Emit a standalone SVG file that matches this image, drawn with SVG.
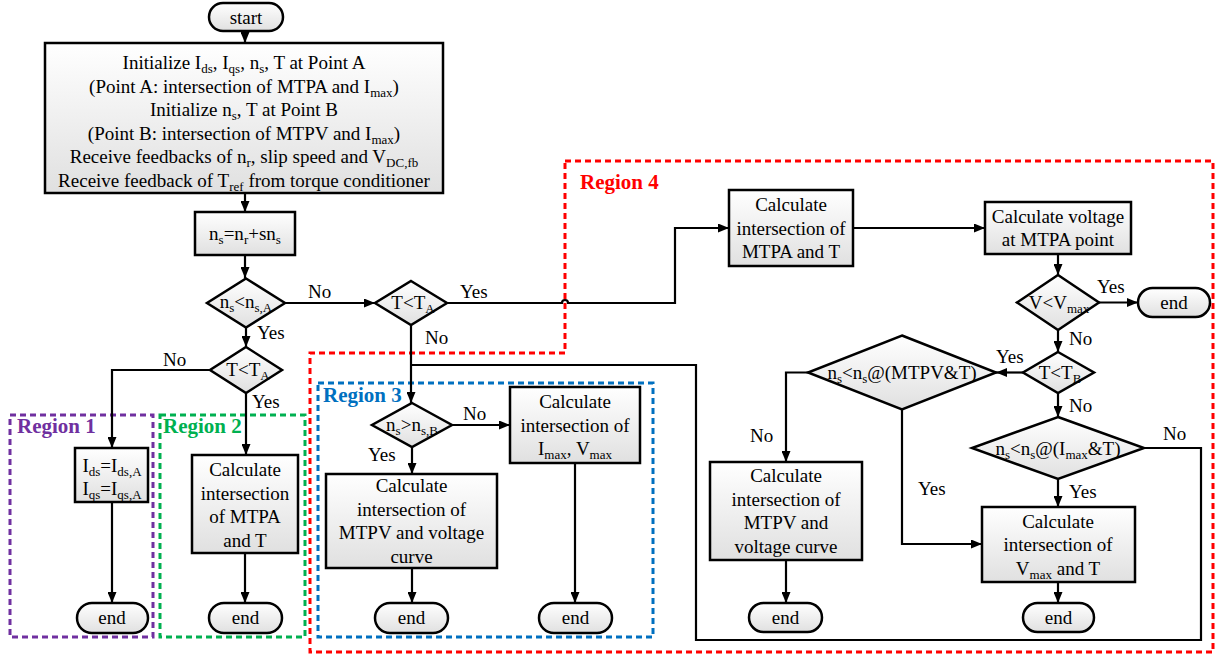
<svg xmlns="http://www.w3.org/2000/svg" width="1216" height="657" viewBox="0 0 1216 657">
<defs>
<linearGradient id="g" x1="0" y1="0" x2="0" y2="1">
<stop offset="0" stop-color="#ffffff"/>
<stop offset="1" stop-color="#e0e0e0"/>
</linearGradient>
<marker id="ah" markerUnits="userSpaceOnUse" markerWidth="11" markerHeight="9" refX="11" refY="4.5" orient="auto">
<path d="M0,0 L11,4.5 L0,9 z" fill="#000"/>
</marker>
<style>
.n{fill:url(#g);stroke:#000;stroke-width:2.5}
.t{font-family:"Liberation Serif","Times New Roman",serif;font-size:19px;fill:#000}
.c{text-anchor:middle}
.s{font-size:13px}
.e{fill:none;stroke:#000;stroke-width:2.2}
.a{marker-end:url(#ah)}
.r{fill:none;stroke-width:3;stroke-dasharray:6 4}
.rl{font-family:"Liberation Serif","Times New Roman",serif;font-size:21px;font-weight:bold}
</style>
</defs>
<rect width="1216" height="657" fill="#fff"/>

<g id="regions">
<rect class="r" x="10" y="415" width="143" height="222" stroke="#7030A0"/>
<text class="rl" x="17" y="433" fill="#7030A0">Region 1</text>
<rect class="r" x="160" y="415" width="145" height="222" stroke="#00B050"/>
<text class="rl" x="163" y="433" fill="#00B050">Region 2</text>
<rect class="r" x="318" y="383" width="335" height="254" stroke="#0070C0"/>
<text class="rl" x="323" y="402" fill="#0070C0">Region 3</text>
<path class="r" d="M565,161 H1213 V652 H310 V353 H565 Z" stroke="#FF0000"/>
<text class="rl" x="580" y="189" fill="#FF0000">Region 4</text>
</g>

<g id="connectors">
<path class="e a" d="M245,30 V43"/>
<path class="e a" d="M245,193 V212"/>
<path class="e a" d="M245,255 V278"/>
<path class="e a" d="M285,303 H375"/>
<path class="e a" d="M246,327.5 V347"/>
<path class="e a" d="M210,370 H112 V448"/>
<path class="e a" d="M246,393 V455"/>
<path class="e a" d="M112,502 V603"/>
<path class="e a" d="M245,553 V603"/>
<path class="e a" d="M447,303 H562 A3,3 0 0 1 568,303 H675 V228 H729"/>
<path class="e a" d="M853,228 H985"/>
<path class="e a" d="M1058,254 V275"/>
<path class="e a" d="M1099,302.5 H1138"/>
<path class="e a" d="M1058,330 V352"/>
<path class="e a" d="M1023,372.5 H996"/>
<path class="e a" d="M1058,393 V417"/>
<path class="e a" d="M808,372.5 H786 V462"/>
<path class="e a" d="M902,409.5 V544 H982"/>
<path class="e a" d="M1058,479 V507"/>
<path class="e" d="M1144,448 H1201 V640 H696 V365 H411"/>
<path class="e a" d="M411,325 V403"/>
<path class="e a" d="M452,425 H510"/>
<path class="e a" d="M412,447 V474"/>
<path class="e a" d="M412,568 V603"/>
<path class="e a" d="M575,463 V603"/>
<path class="e a" d="M786,560 V603"/>
<path class="e a" d="M1058,582 V603"/>
<g class="t">
<text x="308" y="298">No</text>
<text x="460" y="298">Yes</text>
<text x="257" y="339">Yes</text>
<text x="425" y="344">No</text>
<text x="163" y="366">No</text>
<text x="252" y="408">Yes</text>
<text x="463" y="420">No</text>
<text x="368" y="461">Yes</text>
<text x="1097" y="293">Yes</text>
<text x="1069" y="345">No</text>
<text x="996" y="363">Yes</text>
<text x="1069" y="412">No</text>
<text x="1163" y="440">No</text>
<text x="1069" y="498">Yes</text>
<text x="750" y="442">No</text>
<text x="918" y="495">Yes</text>
</g>
</g>

<g id="start">
<rect class="n" x="209" y="3" width="74" height="28" rx="14"/>
<text class="t c" x="246" y="24">start</text>
</g>

<g id="init">
<rect class="n" x="45" y="43" width="398" height="150"/>
<text class="t c" x="244" y="69">Initialize I<tspan class="s" dy="4">ds</tspan><tspan dy="-4">, I</tspan><tspan class="s" dy="4">qs</tspan><tspan dy="-4">, n</tspan><tspan class="s" dy="4">s</tspan><tspan dy="-4">, T at Point A</tspan></text>
<text class="t c" x="244" y="93">(Point A: intersection of MTPA and I<tspan class="s" dy="4">max</tspan><tspan dy="-4">)</tspan></text>
<text class="t c" x="244" y="116">Initialize n<tspan class="s" dy="4">s</tspan><tspan dy="-4">, T at Point B</tspan></text>
<text class="t c" x="244" y="140">(Point B: intersection of MTPV and I<tspan class="s" dy="4">max</tspan><tspan dy="-4">)</tspan></text>
<text class="t c" x="244" y="163">Receive feedbacks of n<tspan class="s" dy="4">r</tspan><tspan dy="-4">, slip speed and V</tspan><tspan class="s" dy="4">DC,fb</tspan></text>
<text class="t c" x="244" y="187">Receive feedback of T<tspan class="s" dy="4">ref</tspan><tspan dy="-4"> from torque conditioner</tspan></text>
</g>

<g id="ns-calc">
<rect class="n" x="195" y="212" width="100" height="43"/>
<text class="t c" x="245" y="240">n<tspan class="s" dy="4">s</tspan><tspan dy="-4">=n</tspan><tspan class="s" dy="4">r</tspan><tspan dy="-4">+sn</tspan><tspan class="s" dy="4">s</tspan></text>
</g>

<g id="d-nsA">
<polygon class="n" points="246,278.5 285,303 246,327.5 207,303"/>
<text class="t c" x="246" y="308">n<tspan class="s" dy="4">s</tspan><tspan dy="-4">&lt;n</tspan><tspan class="s" dy="4">s,A</tspan></text>
</g>

<g id="d-TA-right">
<polygon class="n" points="411,281 447,303 411,325 375,303"/>
<text class="t c" x="413" y="309">T&lt;T<tspan class="s" dy="4">A</tspan></text>
</g>

<g id="d-TA-left">
<polygon class="n" points="246,347 282,370 246,393 210,370"/>
<text class="t c" x="248" y="376">T&lt;T<tspan class="s" dy="4">A</tspan></text>
</g>

<g id="r1-box">
<rect class="n" x="75" y="448" width="73" height="54"/>
<text class="t c" x="112" y="472">I<tspan class="s" dy="4">ds</tspan><tspan dy="-4">=I</tspan><tspan class="s" dy="4">ds,A</tspan></text>
<text class="t c" x="112" y="495">I<tspan class="s" dy="4">qs</tspan><tspan dy="-4">=I</tspan><tspan class="s" dy="4">qs,A</tspan></text>
</g>
<g id="r1-end">
<rect class="n" x="77" y="603" width="71" height="30" rx="15"/>
<text class="t c" x="112" y="624">end</text>
</g>

<g id="r2-box">
<rect class="n" x="192" y="455" width="106" height="98"/>
<text class="t c" x="245" y="476">Calculate</text>
<text class="t c" x="245" y="499.5">intersection</text>
<text class="t c" x="245" y="523">of MTPA</text>
<text class="t c" x="245" y="546.5">and T</text>
</g>
<g id="r2-end">
<rect class="n" x="209" y="603" width="73" height="30" rx="15"/>
<text class="t c" x="245.5" y="624">end</text>
</g>

<g id="d-nsB">
<polygon class="n" points="412,403 452,425 412,447 372,425"/>
<text class="t c" x="412" y="431">n<tspan class="s" dy="4">s</tspan><tspan dy="-4">&gt;n</tspan><tspan class="s" dy="4">s,B</tspan></text>
</g>
<g id="r3-mtpv">
<rect class="n" x="326" y="474" width="171" height="94"/>
<text class="t c" x="411.5" y="492">Calculate</text>
<text class="t c" x="411.5" y="515.5">intersection of</text>
<text class="t c" x="411.5" y="539">MTPV and voltage</text>
<text class="t c" x="411.5" y="562.5">curve</text>
</g>
<g id="r3-end1">
<rect class="n" x="375" y="603" width="73" height="30" rx="15"/>
<text class="t c" x="411.5" y="624">end</text>
</g>
<g id="r3-imax">
<rect class="n" x="510" y="387" width="130" height="76"/>
<text class="t c" x="575" y="408">Calculate</text>
<text class="t c" x="575" y="431.5">intersection of</text>
<text class="t c" x="575" y="455">I<tspan class="s" dy="4">max</tspan><tspan dy="-4">, V</tspan><tspan class="s" dy="4">max</tspan></text>
</g>
<g id="r3-end2">
<rect class="n" x="539" y="603" width="73" height="30" rx="15"/>
<text class="t c" x="575.5" y="624">end</text>
</g>

<g id="r4-mtpa">
<rect class="n" x="729" y="190" width="124" height="76"/>
<text class="t c" x="791" y="211">Calculate</text>
<text class="t c" x="791" y="234.5">intersection of</text>
<text class="t c" x="791" y="258">MTPA and T</text>
</g>
<g id="r4-voltage">
<rect class="n" x="985" y="202" width="146" height="52"/>
<text class="t c" x="1058" y="222.5">Calculate voltage</text>
<text class="t c" x="1058" y="246">at MTPA point</text>
</g>
<g id="d-vmax">
<polygon class="n" points="1058,275 1099,302.5 1058,330 1017,302.5"/>
<text class="t c" x="1059" y="309">V&lt;V<tspan class="s" dy="4">max</tspan></text>
</g>
<g id="r4-end-top">
<rect class="n" x="1138" y="288" width="72" height="29" rx="14.5"/>
<text class="t c" x="1174" y="309">end</text>
</g>
<g id="d-TB">
<polygon class="n" points="1058,352 1094,372.5 1058,393 1023,372.5"/>
<text class="t c" x="1060" y="379">T&lt;T<tspan class="s" dy="4">B</tspan></text>
</g>
<g id="d-mtpvT">
<polygon class="n" points="902,335.5 996,372.5 902,409.5 808,372.5"/>
<text class="t c" x="902" y="379">n<tspan class="s" dy="4">s</tspan><tspan dy="-4">&lt;n</tspan><tspan class="s" dy="4">s</tspan><tspan dy="-4">@(MTPV&amp;T)</tspan></text>
</g>
<g id="d-imaxT">
<polygon class="n" points="1058,417 1144,448 1058,479 972,448"/>
<text class="t c" x="1058" y="455">n<tspan class="s" dy="4">s</tspan><tspan dy="-4">&lt;n</tspan><tspan class="s" dy="4">s</tspan><tspan dy="-4">@(I</tspan><tspan class="s" dy="4">max</tspan><tspan dy="-4">&amp;T)</tspan></text>
</g>
<g id="r4-mtpv">
<rect class="n" x="710" y="462" width="152" height="98"/>
<text class="t c" x="786" y="482">Calculate</text>
<text class="t c" x="786" y="505.5">intersection of</text>
<text class="t c" x="786" y="529">MTPV and</text>
<text class="t c" x="786" y="552.5">voltage curve</text>
</g>
<g id="r4-end-left">
<rect class="n" x="749" y="603" width="73" height="29" rx="14.5"/>
<text class="t c" x="785.5" y="624">end</text>
</g>
<g id="r4-vmax">
<rect class="n" x="982" y="507" width="153" height="75"/>
<text class="t c" x="1058" y="527.5">Calculate</text>
<text class="t c" x="1058" y="551">intersection of</text>
<text class="t c" x="1058" y="574.5">V<tspan class="s" dy="4">max</tspan><tspan dy="-4"> and T</tspan></text>
</g>
<g id="r4-end-right">
<rect class="n" x="1023" y="603" width="71" height="29" rx="14.5"/>
<text class="t c" x="1058.5" y="624">end</text>
</g>
</svg>
